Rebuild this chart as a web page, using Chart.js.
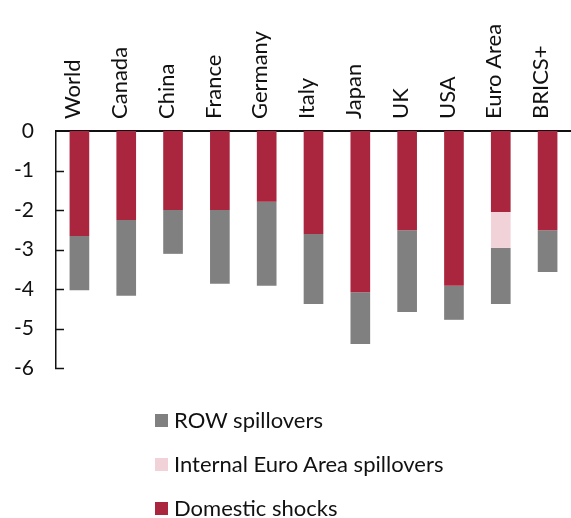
<!DOCTYPE html>
<html>
<head>
<meta charset="utf-8">
<script src="https://cdn.jsdelivr.net/npm/chart.js@4"></script>
<style>
  html,body{margin:0;padding:0;background:#fff;}
  #wrap{position:relative;width:571px;height:518px;}
  #legend{position:absolute;left:155px;top:398px;font-family:Lato,"Open Sans",sans-serif;font-size:22px;color:#111;}
  #legend .it{display:flex;align-items:center;height:44px;line-height:44px;white-space:nowrap;}
  #legend .sw{width:13px;height:13px;margin-right:6px;display:inline-block;}
</style>
</head>
<body>
<div id="wrap">
  <canvas id="c" width="571" height="518"></canvas>
  <div id="legend"></div>
</div>
<script>
// data (percent)
const categories = ['World','Canada','China','France','Germany','Italy','Japan','UK','USA','Euro Area','BRICS+'];
const domestic   = [-2.66,-2.25,-2.00,-2.00,-1.79,-2.61,-4.08,-2.51,-3.92,-2.05,-2.51];
const internalEA = [0,0,0,0,0,0,0,0,0,-0.91,0];
const rowSpill   = [-1.37,-1.92,-1.11,-1.87,-2.13,-1.77,-1.31,-2.07,-0.86,-1.42,-1.06];
const yTicks     = [0,-1,-2,-3,-4,-5,-6];

const FONT = 'Lato, "Open Sans", sans-serif';
const INK = '#111';

// ticks pointing into the plot
const innerTicks = {
  id:'innerTicks',
  afterDraw(chart){
    const y = chart.scales.y, ctx = chart.ctx;
    ctx.save();
    ctx.strokeStyle = INK; ctx.lineWidth = 1.5;
    yTicks.forEach(v=>{
      if (v===0) return;
      const py = Math.round(y.getPixelForValue(v))+0.5;
      ctx.beginPath(); ctx.moveTo(y.right-1, py); ctx.lineTo(y.right+8, py); ctx.stroke();
    });
    ctx.restore();
  }
};

const bar = {barPercentage:0.42, categoryPercentage:1, borderWidth:0};
const chart = new Chart(document.getElementById('c'),{
  type:'bar',
  data:{
    labels: categories,
    datasets:[
      {label:'Domestic shocks', data:domestic, backgroundColor:'#A9263E', ...bar},
      {label:'Internal Euro Area spillovers', data:internalEA, backgroundColor:'#F0D2D8', ...bar},
      {label:'ROW spillovers', data:rowSpill, backgroundColor:'#808080', ...bar}
    ]
  },
  options:{
    responsive:false, animation:false,
    layout:{padding:{top:0,right:-3,left:0,bottom:150}},
    scales:{
      x:{
        stacked:true, position:'top',
        grid:{display:false, drawTicks:false},
        border:{display:true, color:INK, width:2},
        ticks:{color:INK, font:{family:FONT,size:22}, minRotation:90, maxRotation:90, autoSkip:false, padding:12, labelOffset:20},
        afterFit(s){ s.height = 131; }
      },
      y:{
        stacked:true, min:-6, max:0,
        grid:{display:false, drawTicks:false},
        border:{display:true, color:INK, width:1.5},
        afterBuildTicks(s){ s.ticks = yTicks.map(v=>({value:v})); },
        ticks:{color:INK, font:{family:FONT,size:21}, padding:22},
        afterFit(s){ s.width = 56; }
      }
    },
    plugins:{legend:{display:false}, tooltip:{enabled:false}}
  },
  plugins:[innerTicks]
});

// legend (reverse order, built from the datasets)
const L = document.getElementById('legend');
chart.data.datasets.slice().reverse().forEach(d=>{
  L.insertAdjacentHTML('beforeend', `<div class="it"><span class="sw" style="background:${d.backgroundColor}"></span>${d.label}</div>`);
});
</script>
</body>
</html>
